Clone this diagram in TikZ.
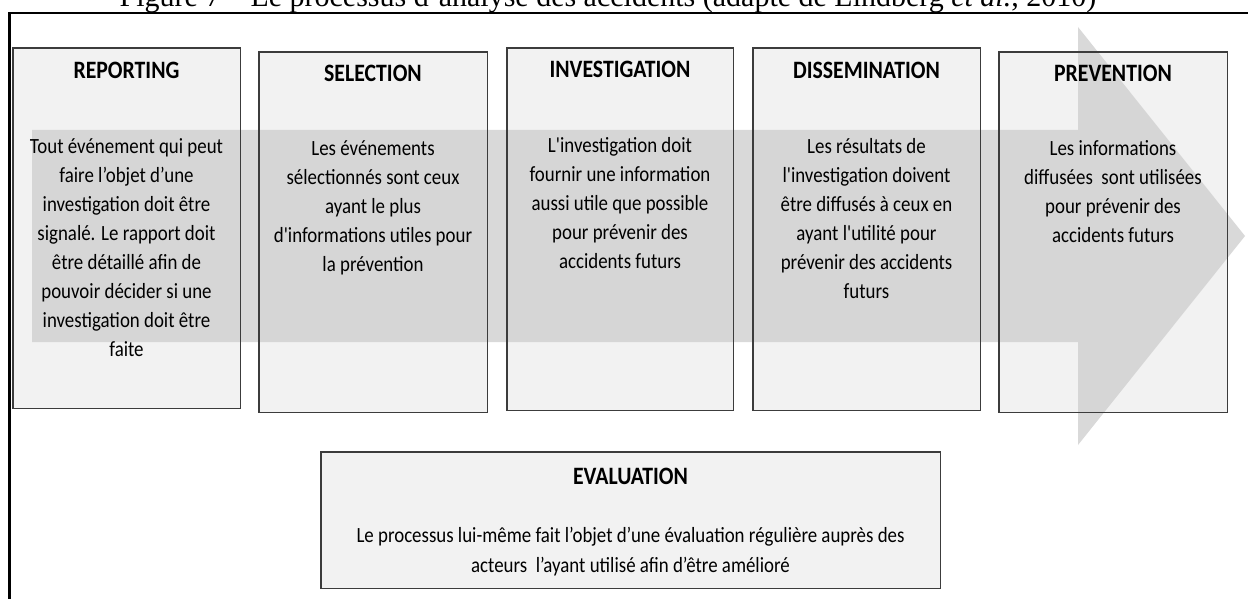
\documentclass[tikz,border=0pt]{standalone}
\usepackage{fontspec}
\setmainfont{Liberation Serif}
\newfontfamily\boxfont[FakeStretch=0.87,Ligatures=TeXOff]{Carlito}
\definecolor{boxgray}{HTML}{F2F2F2}
\definecolor{arrowgray}{HTML}{D0D0D0}
\definecolor{bordergray}{HTML}{3C3C3C}
\newcommand{\fl}{\rule{0pt}{20pt}}
\tikzset{
  panel/.style={anchor=north west, inner sep=0pt, fill=boxgray, draw=none},
  panelborder/.style={draw=bordergray, line width=1.8pt},
  headtext/.style={anchor=base, inner sep=0pt, font=\boxfont\bfseries\fontsize{25}{30}\selectfont},
  bodytext/.style={anchor=north, inner sep=0pt, align=center, font=\boxfont\fontsize{21.7}{29}\selectfont},
  evalbody/.style={bodytext, font=\boxfont\fontsize{21.7}{30}\selectfont},
  bigarrow/.style={fill=arrowgray, opacity=0.8},
  frameline/.style={line width=2.5pt, black}
}
\begin{document}
\begin{tikzpicture}[x=1pt,y=-1pt]
\useasboundingbox (0,0) rectangle (1248,599);
% title (cut off at the top)
\node[anchor=base, inner sep=0pt, font=\fontsize{30}{36}\selectfont] (title) at (608,7)
  {Figure 7 – Le processus d’analyse des accidents (adapté de Lindberg \textit{et al.}, 2010)};
% frame
\coordinate (fbl) at (9.5,601);
\coordinate (ftl) at (9.5,13);
\coordinate (ftr) at (1252,13);
\draw[frameline] (fbl) -- (ftl) -- (ftr);
% panels (fill)
\node[panel, minimum width=227pt, minimum height=360pt] (rep) at (13,48) {};
\node[panel, minimum width=228pt, minimum height=360pt] (sel) at (259,52) {};
\node[panel, minimum width=226pt, minimum height=362pt] (inv) at (507,48) {};
\node[panel, minimum width=227pt, minimum height=362pt] (dis) at (753,48) {};
\node[panel, minimum width=228pt, minimum height=360pt] (pre) at (999,52) {};
\node[panel, minimum width=619pt, minimum height=136pt] (eva) at (321,452) {};
% big arrow
\fill[bigarrow] (32,130) -- (1078,130) -- (1078,27) -- (1245,236) -- (1078,445) -- (1078,342) -- (32,342) -- cycle;
% borders
\foreach \n in {rep,sel,inv,dis,pre,eva}
  \draw[panelborder] (\n.north west) rectangle (\n.south east);
% headings
\node[headtext] (repH) at (126.5,79) {REPORTING};
\node[headtext] (selH) at (373,82) {SELECTION};
\node[headtext] (invH) at (620,78) {INVESTIGATION};
\node[headtext] (disH) at (866.5,79) {DISSEMINATION};
\node[headtext] (preH) at (1113,82) {PREVENTION};
\node[headtext] (evaH) at (630.5,484) {EVALUATION};
% bodies
\node[bodytext] (repB) at (126.5,133) {\fl Tout événement qui peut\\faire l’objet d’une\\investigation doit être\\signalé. Le rapport doit\\être détaillé afin de\\pouvoir décider si une\\investigation doit être\\faite};
\node[bodytext] (selB) at (373,135) {\fl Les événements\\sélectionnés sont ceux\\ayant le plus\\d'informations utiles pour\\la prévention};
\node[bodytext] (invB) at (620,132) {\fl L'investigation doit\\fournir une information\\aussi utile que possible\\pour prévenir des\\accidents futurs};
\node[bodytext] (disB) at (866.5,133) {\fl Les résultats de\\l'investigation doivent\\être diffusés à ceux en\\ayant l'utilité pour\\prévenir des accidents\\futurs};
\node[bodytext] (preB) at (1113,135) {\fl Les informations\\diffusées\ \ sont utilisées\\pour prévenir des\\accidents futurs};
\node[evalbody] (evaB) at (630.5,522) {\fl Le processus lui-même fait l’objet d’une évaluation régulière auprès des\\acteurs\ \ l’ayant utilisé afin d’être amélioré};
\end{tikzpicture}
\end{document}
